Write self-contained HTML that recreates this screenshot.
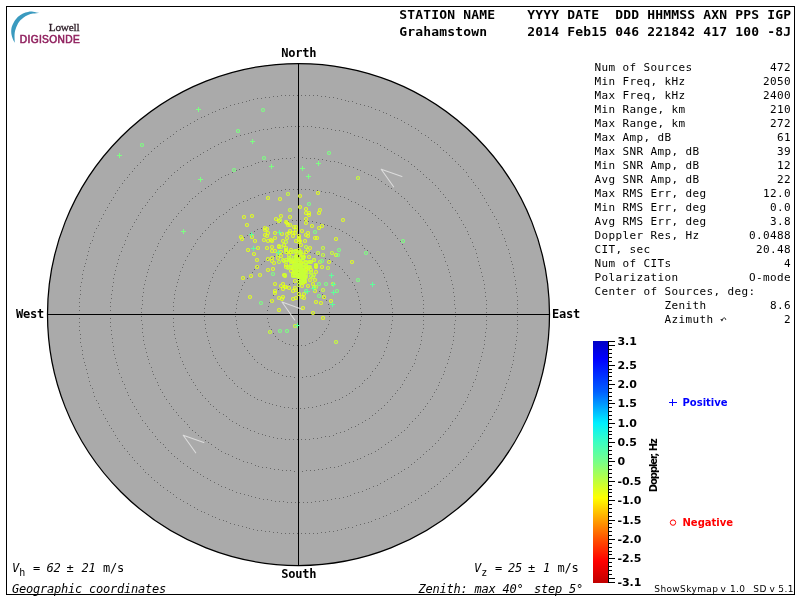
<!DOCTYPE html>
<html lang="en">
<head>
<meta charset="utf-8">
<title>Skymap - Grahamstown 2014 Feb15 221842</title>
<style>
html,body{margin:0;padding:0;background:#fff;}
body{width:800px;height:600px;overflow:hidden;}
svg{display:block;}
.mono{font-family:"DejaVu Sans Mono","Liberation Mono",monospace;}
.sans{font-family:"DejaVu Sans","Liberation Sans",sans-serif;}
.hdr text{font-size:13px;font-weight:bold;letter-spacing:0.174px;white-space:pre;}
.cmp text{font-size:12px;font-weight:bold;letter-spacing:-0.22px;}
.info text{font-size:11px;letter-spacing:0.378px;white-space:pre;}
.bot text{font-size:12px;letter-spacing:-0.224px;white-space:pre;}
.it{font-style:oblique;}
.ver text{font-size:9px;letter-spacing:0.38px;}
.cb text{font-size:11px;font-weight:bold;}
</style>
</head>
<body>
<svg width="800" height="600" viewBox="0 0 800 600">
<defs>
<linearGradient id="jet" x1="0" y1="0" x2="0" y2="1">
<stop offset="0" stop-color="#0000c4"/>
<stop offset="0.075" stop-color="#0000ff"/>
<stop offset="0.21" stop-color="#0060ff"/>
<stop offset="0.339" stop-color="#00f0ff"/>
<stop offset="0.42" stop-color="#3cffc0"/>
<stop offset="0.5" stop-color="#78ff88"/>
<stop offset="0.58" stop-color="#c0ff3c"/>
<stop offset="0.648" stop-color="#ffff00"/>
<stop offset="0.74" stop-color="#ffa000"/>
<stop offset="0.82" stop-color="#ff5000"/>
<stop offset="0.91" stop-color="#ff0000"/>
<stop offset="1" stop-color="#c00000"/>
</linearGradient>
</defs>
<rect x="0" y="0" width="800" height="600" fill="#fff"/>
<rect x="6.5" y="6.5" width="788" height="588" fill="none" stroke="#000" stroke-width="1" shape-rendering="crispEdges"/>

<!-- logo -->
<g id="logo">
<path d="M39.3 13C38.2 12.8 34.9 11.9 33.0 11.7C31.1 11.5 29.7 11.6 28.0 11.9C26.3 12.2 24.7 12.6 23.0 13.4C21.3 14.2 19.5 15.4 18.0 16.8C16.5 18.2 15.1 20.1 14.0 22.0C12.9 23.9 11.9 26.0 11.5 28.0C11.1 30.0 11.2 32.2 11.4 34.0C11.6 35.8 12.2 37.5 12.8 39.0C13.4 40.5 14.5 42.2 14.8 42.8C14.8 41.3 14.4 36.5 14.6 34.0C14.8 31.5 15.3 30.0 16.0 28.0C16.7 26.0 17.8 23.7 19.0 22.0C20.2 20.3 21.5 19.2 23.0 18.0C24.5 16.8 26.3 15.7 28.0 15.0C29.7 14.3 31.1 13.9 33.0 13.6C34.9 13.3 38.2 13.1 39.3 13.0Z" fill="#3a9abf"/>
<text x="48.8" y="30.6" font-family="'Liberation Serif',serif" font-size="11.3px" fill="#2c1c26" stroke="#2c1c26" stroke-width="0.3" letter-spacing="-0.25px">Lowell</text>
<text x="19.8" y="42.7" font-family="'Liberation Sans',sans-serif" font-size="10.2px" fill="#90205e" stroke="#90205e" stroke-width="0.55" letter-spacing="0.34px">DIGISONDE</text>
</g>

<!-- header -->
<g class="mono hdr" fill="#000">
<text x="399.3" y="19" xml:space="preserve">STATION NAME    YYYY DATE  DDD HHMMSS AXN PPS IGP</text>
<text x="399.3" y="36" xml:space="preserve">Grahamstown     2014 Feb15 046 221842 417 100 -8J</text>
</g>

<!-- sky disk -->
<circle cx="298.5" cy="314.5" r="251" fill="#aaaaaa" stroke="#000" stroke-width="1.25"/>
<path d="M329 316.5h1M329 320.5h1M328 324.5h1M326 328.5h1M324 331.5h1M322 334.5h1M319 337.5h1M316 340.5h1M312 342.5h1M309 343.5h1M305 345.5h1M301 345.5h1M297 345.5h1M293 345.5h1M289 344.5h1M285 343.5h1M282 341.5h1M278 339.5h1M275 336.5h1M273 333.5h1M271 329.5h1M269 326.5h1M268 322.5h1M267 318.5h1M267 314.5h1M267 310.5h1M268 306.5h1M269 302.5h1M271 299.5h1M273 295.5h1M275 292.5h1M278 289.5h1M282 287.5h1M285 285.5h1M289 284.5h1M293 283.5h1M297 283.5h1M301 283.5h1M305 283.5h1M309 285.5h1M312 286.5h1M316 288.5h1M319 291.5h1M322 294.5h1M324 297.5h1M326 300.5h1M328 304.5h1M329 308.5h1M329 312.5h1M361 316.5h1M360 320.5h1M360 324.5h1M359 328.5h1M358 332.5h1M357 336.5h1M355 339.5h1M354 343.5h1M352 346.5h1M349 350.5h1M347 353.5h1M344 356.5h1M342 359.5h1M339 362.5h1M335 364.5h1M332 367.5h1M329 369.5h1M325 370.5h1M322 372.5h1M318 373.5h1M314 375.5h1M310 376.5h1M306 376.5h1M302 377.5h1M298 377.5h1M294 377.5h1M290 376.5h1M286 376.5h1M282 375.5h1M278 373.5h1M274 372.5h1M271 370.5h1M267 369.5h1M264 367.5h1M261 364.5h1M257 362.5h1M254 359.5h1M252 356.5h1M249 353.5h1M247 350.5h1M244 346.5h1M242 343.5h1M241 339.5h1M239 336.5h1M238 332.5h1M237 328.5h1M236 324.5h1M236 320.5h1M235 316.5h1M235 312.5h1M236 308.5h1M236 304.5h1M237 300.5h1M238 296.5h1M239 292.5h1M241 289.5h1M242 285.5h1M244 282.5h1M247 278.5h1M249 275.5h1M252 272.5h1M254 269.5h1M257 266.5h1M261 264.5h1M264 261.5h1M267 259.5h1M271 258.5h1M274 256.5h1M278 255.5h1M282 253.5h1M286 252.5h1M290 252.5h1M294 251.5h1M298 251.5h1M302 251.5h1M306 252.5h1M310 252.5h1M314 253.5h1M318 255.5h1M322 256.5h1M325 258.5h1M329 259.5h1M332 261.5h1M335 264.5h1M339 266.5h1M342 269.5h1M344 272.5h1M347 275.5h1M349 278.5h1M352 282.5h1M354 285.5h1M355 289.5h1M357 292.5h1M358 296.5h1M359 300.5h1M360 304.5h1M360 308.5h1M361 312.5h1M392 316.5h1M392 320.5h1M391 324.5h1M391 328.5h1M390 332.5h1M389 336.5h1M388 340.5h1M387 343.5h1M386 347.5h1M384 351.5h1M383 355.5h1M381 358.5h1M379 362.5h1M377 365.5h1M375 368.5h1M372 371.5h1M370 375.5h1M367 378.5h1M364 380.5h1M362 383.5h1M359 386.5h1M355 388.5h1M352 391.5h1M349 393.5h1M346 395.5h1M342 397.5h1M339 399.5h1M335 400.5h1M331 402.5h1M327 403.5h1M324 404.5h1M320 405.5h1M316 406.5h1M312 407.5h1M308 407.5h1M304 408.5h1M300 408.5h1M296 408.5h1M292 408.5h1M288 407.5h1M284 407.5h1M280 406.5h1M276 405.5h1M272 404.5h1M269 403.5h1M265 402.5h1M261 400.5h1M257 399.5h1M254 397.5h1M250 395.5h1M247 393.5h1M244 391.5h1M241 388.5h1M237 386.5h1M234 383.5h1M232 380.5h1M229 378.5h1M226 375.5h1M224 371.5h1M221 368.5h1M219 365.5h1M217 362.5h1M215 358.5h1M213 355.5h1M212 351.5h1M210 347.5h1M209 343.5h1M208 340.5h1M207 336.5h1M206 332.5h1M205 328.5h1M205 324.5h1M204 320.5h1M204 316.5h1M204 312.5h1M204 308.5h1M205 304.5h1M205 300.5h1M206 296.5h1M207 292.5h1M208 288.5h1M209 285.5h1M210 281.5h1M212 277.5h1M213 273.5h1M215 270.5h1M217 266.5h1M219 263.5h1M221 260.5h1M224 257.5h1M226 253.5h1M229 250.5h1M232 248.5h1M234 245.5h1M237 242.5h1M241 240.5h1M244 237.5h1M247 235.5h1M250 233.5h1M254 231.5h1M257 229.5h1M261 228.5h1M265 226.5h1M269 225.5h1M272 224.5h1M276 223.5h1M280 222.5h1M284 221.5h1M288 221.5h1M292 220.5h1M296 220.5h1M300 220.5h1M304 220.5h1M308 221.5h1M312 221.5h1M316 222.5h1M320 223.5h1M324 224.5h1M327 225.5h1M331 226.5h1M335 228.5h1M339 229.5h1M342 231.5h1M346 233.5h1M349 235.5h1M352 237.5h1M355 240.5h1M359 242.5h1M362 245.5h1M364 248.5h1M367 250.5h1M370 253.5h1M372 257.5h1M375 260.5h1M377 263.5h1M379 266.5h1M381 270.5h1M383 273.5h1M384 277.5h1M386 281.5h1M387 285.5h1M388 288.5h1M389 292.5h1M390 296.5h1M391 300.5h1M391 304.5h1M392 308.5h1M392 312.5h1M423 316.5h1M423 320.5h1M423 324.5h1M423 328.5h1M422 332.5h1M421 336.5h1M421 340.5h1M420 344.5h1M419 348.5h1M418 351.5h1M416 355.5h1M415 359.5h1M414 363.5h1M412 366.5h1M410 370.5h1M408 373.5h1M406 377.5h1M404 380.5h1M402 384.5h1M400 387.5h1M397 390.5h1M395 393.5h1M392 396.5h1M390 399.5h1M387 402.5h1M384 405.5h1M381 408.5h1M378 410.5h1M375 413.5h1M372 415.5h1M369 418.5h1M365 420.5h1M362 422.5h1M358 424.5h1M355 426.5h1M351 427.5h1M348 429.5h1M344 431.5h1M340 432.5h1M336 433.5h1M333 435.5h1M329 436.5h1M325 436.5h1M321 437.5h1M317 438.5h1M313 438.5h1M309 439.5h1M305 439.5h1M301 439.5h1M297 439.5h1M293 439.5h1M289 439.5h1M285 439.5h1M281 438.5h1M277 438.5h1M273 437.5h1M269 436.5h1M265 435.5h1M262 434.5h1M258 433.5h1M254 431.5h1M250 430.5h1M247 428.5h1M243 427.5h1M239 425.5h1M236 423.5h1M232 421.5h1M229 419.5h1M226 416.5h1M223 414.5h1M219 412.5h1M216 409.5h1M213 406.5h1M210 404.5h1M208 401.5h1M205 398.5h1M202 395.5h1M200 392.5h1M197 389.5h1M195 385.5h1M193 382.5h1M191 379.5h1M189 375.5h1M187 372.5h1M185 368.5h1M183 364.5h1M182 361.5h1M180 357.5h1M179 353.5h1M178 349.5h1M177 346.5h1M176 342.5h1M175 338.5h1M174 334.5h1M174 330.5h1M173 326.5h1M173 322.5h1M173 318.5h1M173 314.5h1M173 310.5h1M173 306.5h1M173 302.5h1M174 298.5h1M174 294.5h1M175 290.5h1M176 286.5h1M177 282.5h1M178 279.5h1M179 275.5h1M180 271.5h1M182 267.5h1M183 264.5h1M185 260.5h1M187 256.5h1M189 253.5h1M191 249.5h1M193 246.5h1M195 243.5h1M197 239.5h1M200 236.5h1M202 233.5h1M205 230.5h1M208 227.5h1M210 224.5h1M213 222.5h1M216 219.5h1M219 216.5h1M223 214.5h1M226 212.5h1M229 209.5h1M232 207.5h1M236 205.5h1M239 203.5h1M243 201.5h1M247 200.5h1M250 198.5h1M254 197.5h1M258 195.5h1M262 194.5h1M265 193.5h1M269 192.5h1M273 191.5h1M277 190.5h1M281 190.5h1M285 189.5h1M289 189.5h1M293 189.5h1M297 189.5h1M301 189.5h1M305 189.5h1M309 189.5h1M313 190.5h1M317 190.5h1M321 191.5h1M325 192.5h1M329 192.5h1M333 193.5h1M336 195.5h1M340 196.5h1M344 197.5h1M348 199.5h1M351 201.5h1M355 202.5h1M358 204.5h1M362 206.5h1M365 208.5h1M369 210.5h1M372 213.5h1M375 215.5h1M378 218.5h1M381 220.5h1M384 223.5h1M387 226.5h1M390 229.5h1M392 232.5h1M395 235.5h1M397 238.5h1M400 241.5h1M402 244.5h1M404 248.5h1M406 251.5h1M408 255.5h1M410 258.5h1M412 262.5h1M414 265.5h1M415 269.5h1M416 273.5h1M418 277.5h1M419 280.5h1M420 284.5h1M421 288.5h1M421 292.5h1M422 296.5h1M423 300.5h1M423 304.5h1M423 308.5h1M423 312.5h1M455 316.5h1M455 320.5h1M454 324.5h1M454 328.5h1M454 332.5h1M453 336.5h1M453 340.5h1M452 344.5h1M451 348.5h1M450 352.5h1M449 356.5h1M448 359.5h1M447 363.5h1M445 367.5h1M444 371.5h1M443 374.5h1M441 378.5h1M439 382.5h1M438 385.5h1M436 389.5h1M434 392.5h1M432 396.5h1M430 399.5h1M427 403.5h1M425 406.5h1M423 409.5h1M420 412.5h1M418 415.5h1M415 418.5h1M412 421.5h1M409 424.5h1M407 427.5h1M404 430.5h1M401 432.5h1M398 435.5h1M395 437.5h1M391 440.5h1M388 442.5h1M385 444.5h1M381 447.5h1M378 449.5h1M375 451.5h1M371 453.5h1M368 454.5h1M364 456.5h1M360 458.5h1M357 459.5h1M353 461.5h1M349 462.5h1M345 463.5h1M341 465.5h1M338 466.5h1M334 467.5h1M330 467.5h1M326 468.5h1M322 469.5h1M318 469.5h1M314 470.5h1M310 470.5h1M306 470.5h1M302 471.5h1M298 471.5h1M294 471.5h1M290 470.5h1M286 470.5h1M282 470.5h1M278 469.5h1M274 469.5h1M270 468.5h1M266 467.5h1M262 467.5h1M258 466.5h1M255 465.5h1M251 463.5h1M247 462.5h1M243 461.5h1M239 459.5h1M236 458.5h1M232 456.5h1M228 454.5h1M225 453.5h1M221 451.5h1M218 449.5h1M215 447.5h1M211 444.5h1M208 442.5h1M205 440.5h1M201 437.5h1M198 435.5h1M195 432.5h1M192 430.5h1M189 427.5h1M187 424.5h1M184 421.5h1M181 418.5h1M178 415.5h1M176 412.5h1M173 409.5h1M171 406.5h1M169 403.5h1M166 399.5h1M164 396.5h1M162 392.5h1M160 389.5h1M158 385.5h1M157 382.5h1M155 378.5h1M153 374.5h1M152 371.5h1M151 367.5h1M149 363.5h1M148 359.5h1M147 356.5h1M146 352.5h1M145 348.5h1M144 344.5h1M143 340.5h1M143 336.5h1M142 332.5h1M142 328.5h1M142 324.5h1M141 320.5h1M141 316.5h1M141 312.5h1M141 308.5h1M142 304.5h1M142 300.5h1M142 296.5h1M143 292.5h1M143 288.5h1M144 284.5h1M145 280.5h1M146 276.5h1M147 272.5h1M148 269.5h1M149 265.5h1M151 261.5h1M152 257.5h1M153 254.5h1M155 250.5h1M157 246.5h1M158 243.5h1M160 239.5h1M162 236.5h1M164 232.5h1M166 229.5h1M169 225.5h1M171 222.5h1M173 219.5h1M176 216.5h1M178 213.5h1M181 210.5h1M184 207.5h1M187 204.5h1M189 201.5h1M192 198.5h1M195 196.5h1M198 193.5h1M201 191.5h1M205 188.5h1M208 186.5h1M211 184.5h1M215 181.5h1M218 179.5h1M221 177.5h1M225 175.5h1M228 174.5h1M232 172.5h1M236 170.5h1M239 169.5h1M243 167.5h1M247 166.5h1M251 165.5h1M255 163.5h1M258 162.5h1M262 161.5h1M266 161.5h1M270 160.5h1M274 159.5h1M278 159.5h1M282 158.5h1M286 158.5h1M290 158.5h1M294 157.5h1M298 157.5h1M302 157.5h1M306 158.5h1M310 158.5h1M314 158.5h1M318 159.5h1M322 159.5h1M326 160.5h1M330 161.5h1M334 161.5h1M338 162.5h1M341 163.5h1M345 165.5h1M349 166.5h1M353 167.5h1M357 169.5h1M360 170.5h1M364 172.5h1M368 174.5h1M371 175.5h1M375 177.5h1M378 179.5h1M381 181.5h1M385 184.5h1M388 186.5h1M391 188.5h1M395 191.5h1M398 193.5h1M401 196.5h1M404 198.5h1M407 201.5h1M409 204.5h1M412 207.5h1M415 210.5h1M418 213.5h1M420 216.5h1M423 219.5h1M425 222.5h1M427 225.5h1M430 229.5h1M432 232.5h1M434 236.5h1M436 239.5h1M438 243.5h1M439 246.5h1M441 250.5h1M443 254.5h1M444 257.5h1M445 261.5h1M447 265.5h1M448 269.5h1M449 272.5h1M450 276.5h1M451 280.5h1M452 284.5h1M453 288.5h1M453 292.5h1M454 296.5h1M454 300.5h1M454 304.5h1M455 308.5h1M455 312.5h1M486 316.5h1M486 320.5h1M486 324.5h1M486 328.5h1M485 332.5h1M485 336.5h1M484 340.5h1M484 344.5h1M483 348.5h1M482 352.5h1M481 356.5h1M480 360.5h1M479 363.5h1M478 367.5h1M477 371.5h1M476 375.5h1M475 379.5h1M473 382.5h1M472 386.5h1M470 390.5h1M468 394.5h1M467 397.5h1M465 401.5h1M463 404.5h1M461 408.5h1M459 411.5h1M457 415.5h1M455 418.5h1M452 421.5h1M450 425.5h1M448 428.5h1M445 431.5h1M443 434.5h1M440 437.5h1M438 440.5h1M435 443.5h1M432 446.5h1M429 449.5h1M426 451.5h1M423 454.5h1M420 457.5h1M417 459.5h1M414 462.5h1M411 464.5h1M408 467.5h1M404 469.5h1M401 471.5h1M398 473.5h1M394 475.5h1M391 477.5h1M387 479.5h1M384 481.5h1M380 483.5h1M377 485.5h1M373 486.5h1M369 488.5h1M366 489.5h1M362 491.5h1M358 492.5h1M354 493.5h1M350 495.5h1M347 496.5h1M343 497.5h1M339 498.5h1M335 498.5h1M331 499.5h1M327 500.5h1M323 500.5h1M319 501.5h1M315 501.5h1M311 502.5h1M307 502.5h1M303 502.5h1M299 502.5h1M295 502.5h1M291 502.5h1M287 502.5h1M283 501.5h1M279 501.5h1M275 501.5h1M271 500.5h1M267 499.5h1M263 499.5h1M259 498.5h1M255 497.5h1M251 496.5h1M248 495.5h1M244 494.5h1M240 493.5h1M236 492.5h1M232 490.5h1M229 489.5h1M225 487.5h1M221 486.5h1M218 484.5h1M214 482.5h1M210 480.5h1M207 478.5h1M203 476.5h1M200 474.5h1M197 472.5h1M193 470.5h1M190 468.5h1M187 466.5h1M183 463.5h1M180 461.5h1M177 458.5h1M174 456.5h1M171 453.5h1M168 450.5h1M165 447.5h1M163 444.5h1M160 442.5h1M157 439.5h1M155 436.5h1M152 432.5h1M149 429.5h1M147 426.5h1M145 423.5h1M142 420.5h1M140 416.5h1M138 413.5h1M136 409.5h1M134 406.5h1M132 402.5h1M130 399.5h1M128 395.5h1M127 392.5h1M125 388.5h1M124 384.5h1M122 381.5h1M121 377.5h1M119 373.5h1M118 369.5h1M117 365.5h1M116 362.5h1M115 358.5h1M114 354.5h1M113 350.5h1M113 346.5h1M112 342.5h1M112 338.5h1M111 334.5h1M111 330.5h1M110 326.5h1M110 322.5h1M110 318.5h1M110 314.5h1M110 310.5h1M110 306.5h1M110 302.5h1M111 298.5h1M111 294.5h1M112 290.5h1M112 286.5h1M113 282.5h1M113 278.5h1M114 274.5h1M115 270.5h1M116 266.5h1M117 263.5h1M118 259.5h1M119 255.5h1M121 251.5h1M122 247.5h1M124 244.5h1M125 240.5h1M127 236.5h1M128 233.5h1M130 229.5h1M132 226.5h1M134 222.5h1M136 219.5h1M138 215.5h1M140 212.5h1M142 208.5h1M145 205.5h1M147 202.5h1M149 199.5h1M152 196.5h1M155 192.5h1M157 189.5h1M160 186.5h1M163 184.5h1M165 181.5h1M168 178.5h1M171 175.5h1M174 172.5h1M177 170.5h1M180 167.5h1M183 165.5h1M187 162.5h1M190 160.5h1M193 158.5h1M197 156.5h1M200 154.5h1M203 152.5h1M207 150.5h1M210 148.5h1M214 146.5h1M218 144.5h1M221 142.5h1M225 141.5h1M229 139.5h1M232 138.5h1M236 136.5h1M240 135.5h1M244 134.5h1M248 133.5h1M251 132.5h1M255 131.5h1M259 130.5h1M263 129.5h1M267 129.5h1M271 128.5h1M275 127.5h1M279 127.5h1M283 127.5h1M287 126.5h1M291 126.5h1M295 126.5h1M299 126.5h1M303 126.5h1M307 126.5h1M311 126.5h1M315 127.5h1M319 127.5h1M323 128.5h1M327 128.5h1M331 129.5h1M335 130.5h1M339 130.5h1M343 131.5h1M347 132.5h1M350 133.5h1M354 135.5h1M358 136.5h1M362 137.5h1M366 139.5h1M369 140.5h1M373 142.5h1M377 143.5h1M380 145.5h1M384 147.5h1M387 149.5h1M391 151.5h1M394 153.5h1M398 155.5h1M401 157.5h1M404 159.5h1M408 161.5h1M411 164.5h1M414 166.5h1M417 169.5h1M420 171.5h1M423 174.5h1M426 177.5h1M429 179.5h1M432 182.5h1M435 185.5h1M438 188.5h1M440 191.5h1M443 194.5h1M445 197.5h1M448 200.5h1M450 203.5h1M452 207.5h1M455 210.5h1M457 213.5h1M459 217.5h1M461 220.5h1M463 224.5h1M465 227.5h1M467 231.5h1M468 234.5h1M470 238.5h1M472 242.5h1M473 246.5h1M475 249.5h1M476 253.5h1M477 257.5h1M478 261.5h1M479 265.5h1M480 268.5h1M481 272.5h1M482 276.5h1M483 280.5h1M484 284.5h1M484 288.5h1M485 292.5h1M485 296.5h1M486 300.5h1M486 304.5h1M486 308.5h1M486 312.5h1M517 316.5h1M517 320.5h1M517 324.5h1M517 328.5h1M517 332.5h1M516 336.5h1M516 340.5h1M515 344.5h1M515 348.5h1M514 352.5h1M513 356.5h1M513 360.5h1M512 364.5h1M511 367.5h1M510 371.5h1M509 375.5h1M508 379.5h1M506 383.5h1M505 387.5h1M504 390.5h1M502 394.5h1M501 398.5h1M499 401.5h1M498 405.5h1M496 409.5h1M494 412.5h1M492 416.5h1M490 419.5h1M488 423.5h1M486 426.5h1M484 430.5h1M482 433.5h1M480 436.5h1M478 440.5h1M475 443.5h1M473 446.5h1M471 449.5h1M468 452.5h1M466 456.5h1M463 459.5h1M460 462.5h1M458 464.5h1M455 467.5h1M452 470.5h1M449 473.5h1M446 476.5h1M443 478.5h1M440 481.5h1M437 484.5h1M434 486.5h1M431 488.5h1M428 491.5h1M425 493.5h1M421 495.5h1M418 498.5h1M415 500.5h1M411 502.5h1M408 504.5h1M404 506.5h1M401 508.5h1M397 510.5h1M394 511.5h1M390 513.5h1M386 515.5h1M383 516.5h1M379 518.5h1M375 519.5h1M371 521.5h1M368 522.5h1M364 523.5h1M360 524.5h1M356 525.5h1M352 527.5h1M348 527.5h1M345 528.5h1M341 529.5h1M337 530.5h1M333 531.5h1M329 531.5h1M325 532.5h1M321 532.5h1M317 533.5h1M313 533.5h1M309 533.5h1M305 533.5h1M301 533.5h1M297 533.5h1M293 533.5h1M289 533.5h1M285 533.5h1M281 533.5h1M277 532.5h1M273 532.5h1M269 531.5h1M265 531.5h1M261 530.5h1M257 530.5h1M253 529.5h1M249 528.5h1M246 527.5h1M242 526.5h1M238 525.5h1M234 524.5h1M230 523.5h1M226 521.5h1M223 520.5h1M219 519.5h1M215 517.5h1M212 516.5h1M208 514.5h1M204 512.5h1M201 511.5h1M197 509.5h1M194 507.5h1M190 505.5h1M187 503.5h1M183 501.5h1M180 499.5h1M176 497.5h1M173 494.5h1M170 492.5h1M167 490.5h1M163 487.5h1M160 485.5h1M157 482.5h1M154 480.5h1M151 477.5h1M148 474.5h1M145 472.5h1M143 469.5h1M140 466.5h1M137 463.5h1M134 460.5h1M132 457.5h1M129 454.5h1M127 451.5h1M124 448.5h1M122 445.5h1M119 441.5h1M117 438.5h1M115 435.5h1M113 431.5h1M111 428.5h1M109 425.5h1M107 421.5h1M105 418.5h1M103 414.5h1M101 410.5h1M99 407.5h1M98 403.5h1M96 400.5h1M94 396.5h1M93 392.5h1M92 388.5h1M90 385.5h1M89 381.5h1M88 377.5h1M87 373.5h1M86 369.5h1M85 365.5h1M84 362.5h1M83 358.5h1M82 354.5h1M82 350.5h1M81 346.5h1M80 342.5h1M80 338.5h1M80 334.5h1M79 330.5h1M79 326.5h1M79 322.5h1M79 318.5h1M79 314.5h1M79 310.5h1M79 306.5h1M79 302.5h1M79 298.5h1M80 294.5h1M80 290.5h1M80 286.5h1M81 282.5h1M82 278.5h1M82 274.5h1M83 270.5h1M84 266.5h1M85 263.5h1M86 259.5h1M87 255.5h1M88 251.5h1M89 247.5h1M90 243.5h1M92 240.5h1M93 236.5h1M94 232.5h1M96 228.5h1M98 225.5h1M99 221.5h1M101 218.5h1M103 214.5h1M105 210.5h1M107 207.5h1M109 203.5h1M111 200.5h1M113 197.5h1M115 193.5h1M117 190.5h1M119 187.5h1M122 183.5h1M124 180.5h1M127 177.5h1M129 174.5h1M132 171.5h1M134 168.5h1M137 165.5h1M140 162.5h1M143 159.5h1M145 156.5h1M148 154.5h1M151 151.5h1M154 148.5h1M157 146.5h1M160 143.5h1M163 141.5h1M167 138.5h1M170 136.5h1M173 134.5h1M176 131.5h1M180 129.5h1M183 127.5h1M187 125.5h1M190 123.5h1M194 121.5h1M197 119.5h1M201 117.5h1M204 116.5h1M208 114.5h1M212 112.5h1M215 111.5h1M219 109.5h1M223 108.5h1M226 107.5h1M230 105.5h1M234 104.5h1M238 103.5h1M242 102.5h1M246 101.5h1M249 100.5h1M253 99.5h1M257 98.5h1M261 98.5h1M265 97.5h1M269 97.5h1M273 96.5h1M277 96.5h1M281 95.5h1M285 95.5h1M289 95.5h1M293 95.5h1M297 95.5h1M301 95.5h1M305 95.5h1M309 95.5h1M313 95.5h1M317 95.5h1M321 96.5h1M325 96.5h1M329 97.5h1M333 97.5h1M337 98.5h1M341 99.5h1M345 100.5h1M348 101.5h1M352 101.5h1M356 103.5h1M360 104.5h1M364 105.5h1M368 106.5h1M371 107.5h1M375 109.5h1M379 110.5h1M383 112.5h1M386 113.5h1M390 115.5h1M394 117.5h1M397 118.5h1M401 120.5h1M404 122.5h1M408 124.5h1M411 126.5h1M415 128.5h1M418 130.5h1M421 133.5h1M425 135.5h1M428 137.5h1M431 140.5h1M434 142.5h1M437 144.5h1M440 147.5h1M443 150.5h1M446 152.5h1M449 155.5h1M452 158.5h1M455 161.5h1M458 164.5h1M460 166.5h1M463 169.5h1M466 172.5h1M468 176.5h1M471 179.5h1M473 182.5h1M475 185.5h1M478 188.5h1M480 192.5h1M482 195.5h1M484 198.5h1M486 202.5h1M488 205.5h1M490 209.5h1M492 212.5h1M494 216.5h1M496 219.5h1M498 223.5h1M499 227.5h1M501 230.5h1M502 234.5h1M504 238.5h1M505 241.5h1M506 245.5h1M508 249.5h1M509 253.5h1M510 257.5h1M511 261.5h1M512 264.5h1M513 268.5h1M513 272.5h1M514 276.5h1M515 280.5h1M515 284.5h1M516 288.5h1M516 292.5h1M517 296.5h1M517 300.5h1M517 304.5h1M517 308.5h1M517 312.5h1" fill="none" stroke="#686868" stroke-width="1" shape-rendering="crispEdges"/>
<path d="M298.5 63.5V565.5M47.5 314.5H549.5" stroke="#000" stroke-width="1" shape-rendering="crispEdges"/>
<g fill="none" stroke="#dcdcdc" stroke-width="1.1" stroke-linecap="round" stroke-linejoin="round">
<path d="M401.9 176.5L381.2 169.3L393.6 186.8"/>
<path d="M302.6 309.6L282 302L294.7 320"/>
<path d="M203.8 442.5L183.2 435.2L195.7 452.8"/>
</g>
<g id="sources">
<path d="M266.5 198a1.5 1.5 0 1 0 3 0a1.5 1.5 0 1 0 -3 0M278.5 199a1.5 1.5 0 1 0 3 0a1.5 1.5 0 1 0 -3 0M298.5 196a1.5 1.5 0 1 0 3 0a1.5 1.5 0 1 0 -3 0M316.5 193a1.5 1.5 0 1 0 3 0a1.5 1.5 0 1 0 -3 0M298.5 207a1.5 1.5 0 1 0 3 0a1.5 1.5 0 1 0 -3 0M304.5 209a1.5 1.5 0 1 0 3 0a1.5 1.5 0 1 0 -3 0M304.5 213a1.5 1.5 0 1 0 3 0a1.5 1.5 0 1 0 -3 0M307.5 213a1.5 1.5 0 1 0 3 0a1.5 1.5 0 1 0 -3 0M307.5 215a1.5 1.5 0 1 0 3 0a1.5 1.5 0 1 0 -3 0M318.5 210a1.5 1.5 0 1 0 3 0a1.5 1.5 0 1 0 -3 0M317.5 213a1.5 1.5 0 1 0 3 0a1.5 1.5 0 1 0 -3 0M242.5 217a1.5 1.5 0 1 0 3 0a1.5 1.5 0 1 0 -3 0M250.5 216a1.5 1.5 0 1 0 3 0a1.5 1.5 0 1 0 -3 0M279.5 216a1.5 1.5 0 1 0 3 0a1.5 1.5 0 1 0 -3 0M288.5 217a1.5 1.5 0 1 0 3 0a1.5 1.5 0 1 0 -3 0M274.5 219a1.5 1.5 0 1 0 3 0a1.5 1.5 0 1 0 -3 0M277.5 221a1.5 1.5 0 1 0 3 0a1.5 1.5 0 1 0 -3 0M304.5 219a1.5 1.5 0 1 0 3 0a1.5 1.5 0 1 0 -3 0M304.5 223a1.5 1.5 0 1 0 3 0a1.5 1.5 0 1 0 -3 0M245.5 225a1.5 1.5 0 1 0 3 0a1.5 1.5 0 1 0 -3 0M284.5 222a1.5 1.5 0 1 0 3 0a1.5 1.5 0 1 0 -3 0M285.5 223a1.5 1.5 0 1 0 3 0a1.5 1.5 0 1 0 -3 0M286.5 225a1.5 1.5 0 1 0 3 0a1.5 1.5 0 1 0 -3 0M288.5 225a1.5 1.5 0 1 0 3 0a1.5 1.5 0 1 0 -3 0M310.5 226a1.5 1.5 0 1 0 3 0a1.5 1.5 0 1 0 -3 0M320.5 226a1.5 1.5 0 1 0 3 0a1.5 1.5 0 1 0 -3 0M317.5 228a1.5 1.5 0 1 0 3 0a1.5 1.5 0 1 0 -3 0M292.5 227a1.5 1.5 0 1 0 3 0a1.5 1.5 0 1 0 -3 0M294.5 227a1.5 1.5 0 1 0 3 0a1.5 1.5 0 1 0 -3 0M263.5 228a1.5 1.5 0 1 0 3 0a1.5 1.5 0 1 0 -3 0M265.5 229a1.5 1.5 0 1 0 3 0a1.5 1.5 0 1 0 -3 0M263.5 230a1.5 1.5 0 1 0 3 0a1.5 1.5 0 1 0 -3 0M288.5 231a1.5 1.5 0 1 0 3 0a1.5 1.5 0 1 0 -3 0M294.5 230a1.5 1.5 0 1 0 3 0a1.5 1.5 0 1 0 -3 0M300.5 231a1.5 1.5 0 1 0 3 0a1.5 1.5 0 1 0 -3 0M273.5 233a1.5 1.5 0 1 0 3 0a1.5 1.5 0 1 0 -3 0M266.5 233a1.5 1.5 0 1 0 3 0a1.5 1.5 0 1 0 -3 0M263.5 235a1.5 1.5 0 1 0 3 0a1.5 1.5 0 1 0 -3 0M265.5 236a1.5 1.5 0 1 0 3 0a1.5 1.5 0 1 0 -3 0M280.5 234a1.5 1.5 0 1 0 3 0a1.5 1.5 0 1 0 -3 0M285.5 234a1.5 1.5 0 1 0 3 0a1.5 1.5 0 1 0 -3 0M287.5 233a1.5 1.5 0 1 0 3 0a1.5 1.5 0 1 0 -3 0M291.5 233a1.5 1.5 0 1 0 3 0a1.5 1.5 0 1 0 -3 0M293.5 233a1.5 1.5 0 1 0 3 0a1.5 1.5 0 1 0 -3 0M306.5 233a1.5 1.5 0 1 0 3 0a1.5 1.5 0 1 0 -3 0M304.5 235a1.5 1.5 0 1 0 3 0a1.5 1.5 0 1 0 -3 0M306.5 236a1.5 1.5 0 1 0 3 0a1.5 1.5 0 1 0 -3 0M239.5 237a1.5 1.5 0 1 0 3 0a1.5 1.5 0 1 0 -3 0M240.5 239a1.5 1.5 0 1 0 3 0a1.5 1.5 0 1 0 -3 0M250.5 237a1.5 1.5 0 1 0 3 0a1.5 1.5 0 1 0 -3 0M297.5 236a1.5 1.5 0 1 0 3 0a1.5 1.5 0 1 0 -3 0M297.5 238a1.5 1.5 0 1 0 3 0a1.5 1.5 0 1 0 -3 0M291.5 236a1.5 1.5 0 1 0 3 0a1.5 1.5 0 1 0 -3 0M285.5 238a1.5 1.5 0 1 0 3 0a1.5 1.5 0 1 0 -3 0M313.5 238a1.5 1.5 0 1 0 3 0a1.5 1.5 0 1 0 -3 0M315.5 238a1.5 1.5 0 1 0 3 0a1.5 1.5 0 1 0 -3 0M273.5 238a1.5 1.5 0 1 0 3 0a1.5 1.5 0 1 0 -3 0M262.5 240a1.5 1.5 0 1 0 3 0a1.5 1.5 0 1 0 -3 0M269.5 240a1.5 1.5 0 1 0 3 0a1.5 1.5 0 1 0 -3 0M266.5 241a1.5 1.5 0 1 0 3 0a1.5 1.5 0 1 0 -3 0M270.5 241a1.5 1.5 0 1 0 3 0a1.5 1.5 0 1 0 -3 0M253.5 241a1.5 1.5 0 1 0 3 0a1.5 1.5 0 1 0 -3 0M281.5 241a1.5 1.5 0 1 0 3 0a1.5 1.5 0 1 0 -3 0M294.5 241a1.5 1.5 0 1 0 3 0a1.5 1.5 0 1 0 -3 0M341.5 220a1.5 1.5 0 1 0 3 0a1.5 1.5 0 1 0 -3 0M334.5 239a1.5 1.5 0 1 0 3 0a1.5 1.5 0 1 0 -3 0M334.5 255a1.5 1.5 0 1 0 3 0a1.5 1.5 0 1 0 -3 0M350.5 262a1.5 1.5 0 1 0 3 0a1.5 1.5 0 1 0 -3 0M327.5 262a1.5 1.5 0 1 0 3 0a1.5 1.5 0 1 0 -3 0M320.5 267a1.5 1.5 0 1 0 3 0a1.5 1.5 0 1 0 -3 0M322.5 297a1.5 1.5 0 1 0 3 0a1.5 1.5 0 1 0 -3 0M314.5 302a1.5 1.5 0 1 0 3 0a1.5 1.5 0 1 0 -3 0M319.5 303a1.5 1.5 0 1 0 3 0a1.5 1.5 0 1 0 -3 0M329.5 301a1.5 1.5 0 1 0 3 0a1.5 1.5 0 1 0 -3 0M301.5 308a1.5 1.5 0 1 0 3 0a1.5 1.5 0 1 0 -3 0M311.5 313a1.5 1.5 0 1 0 3 0a1.5 1.5 0 1 0 -3 0M302.5 298a1.5 1.5 0 1 0 3 0a1.5 1.5 0 1 0 -3 0M302.5 294a1.5 1.5 0 1 0 3 0a1.5 1.5 0 1 0 -3 0M313.5 291a1.5 1.5 0 1 0 3 0a1.5 1.5 0 1 0 -3 0M306.5 286a1.5 1.5 0 1 0 3 0a1.5 1.5 0 1 0 -3 0M321.5 318a1.5 1.5 0 1 0 3 0a1.5 1.5 0 1 0 -3 0M248.5 297a1.5 1.5 0 1 0 3 0a1.5 1.5 0 1 0 -3 0M270.5 301a1.5 1.5 0 1 0 3 0a1.5 1.5 0 1 0 -3 0M277.5 298a1.5 1.5 0 1 0 3 0a1.5 1.5 0 1 0 -3 0M280.5 299a1.5 1.5 0 1 0 3 0a1.5 1.5 0 1 0 -3 0M281.5 297a1.5 1.5 0 1 0 3 0a1.5 1.5 0 1 0 -3 0M291.5 299a1.5 1.5 0 1 0 3 0a1.5 1.5 0 1 0 -3 0M294.5 298a1.5 1.5 0 1 0 3 0a1.5 1.5 0 1 0 -3 0M297.5 294a1.5 1.5 0 1 0 3 0a1.5 1.5 0 1 0 -3 0M300.5 297a1.5 1.5 0 1 0 3 0a1.5 1.5 0 1 0 -3 0M277.5 310a1.5 1.5 0 1 0 3 0a1.5 1.5 0 1 0 -3 0M246.5 250a1.5 1.5 0 1 0 3 0a1.5 1.5 0 1 0 -3 0M256.5 248a1.5 1.5 0 1 0 3 0a1.5 1.5 0 1 0 -3 0M252.5 254a1.5 1.5 0 1 0 3 0a1.5 1.5 0 1 0 -3 0M255.5 260a1.5 1.5 0 1 0 3 0a1.5 1.5 0 1 0 -3 0M255.5 267a1.5 1.5 0 1 0 3 0a1.5 1.5 0 1 0 -3 0M241.5 278a1.5 1.5 0 1 0 3 0a1.5 1.5 0 1 0 -3 0M249.5 276a1.5 1.5 0 1 0 3 0a1.5 1.5 0 1 0 -3 0M258.5 275a1.5 1.5 0 1 0 3 0a1.5 1.5 0 1 0 -3 0M266.5 270a1.5 1.5 0 1 0 3 0a1.5 1.5 0 1 0 -3 0M271.5 269a1.5 1.5 0 1 0 3 0a1.5 1.5 0 1 0 -3 0M273.5 284a1.5 1.5 0 1 0 3 0a1.5 1.5 0 1 0 -3 0M273.5 291a1.5 1.5 0 1 0 3 0a1.5 1.5 0 1 0 -3 0M273.5 293a1.5 1.5 0 1 0 3 0a1.5 1.5 0 1 0 -3 0M265.5 248a1.5 1.5 0 1 0 3 0a1.5 1.5 0 1 0 -3 0M270.5 247a1.5 1.5 0 1 0 3 0a1.5 1.5 0 1 0 -3 0M270.5 251a1.5 1.5 0 1 0 3 0a1.5 1.5 0 1 0 -3 0M273.5 251a1.5 1.5 0 1 0 3 0a1.5 1.5 0 1 0 -3 0M277.5 246a1.5 1.5 0 1 0 3 0a1.5 1.5 0 1 0 -3 0M266.5 259a1.5 1.5 0 1 0 3 0a1.5 1.5 0 1 0 -3 0M270.5 258a1.5 1.5 0 1 0 3 0a1.5 1.5 0 1 0 -3 0M270.5 261a1.5 1.5 0 1 0 3 0a1.5 1.5 0 1 0 -3 0M272.5 263a1.5 1.5 0 1 0 3 0a1.5 1.5 0 1 0 -3 0M276.5 258a1.5 1.5 0 1 0 3 0a1.5 1.5 0 1 0 -3 0M279.5 256a1.5 1.5 0 1 0 3 0a1.5 1.5 0 1 0 -3 0M279.5 286a1.5 1.5 0 1 0 3 0a1.5 1.5 0 1 0 -3 0M281.5 284a1.5 1.5 0 1 0 3 0a1.5 1.5 0 1 0 -3 0M281.5 289a1.5 1.5 0 1 0 3 0a1.5 1.5 0 1 0 -3 0M283.5 287a1.5 1.5 0 1 0 3 0a1.5 1.5 0 1 0 -3 0M287.5 288a1.5 1.5 0 1 0 3 0a1.5 1.5 0 1 0 -3 0M291.5 291a1.5 1.5 0 1 0 3 0a1.5 1.5 0 1 0 -3 0M293.5 288a1.5 1.5 0 1 0 3 0a1.5 1.5 0 1 0 -3 0M300.5 286a1.5 1.5 0 1 0 3 0a1.5 1.5 0 1 0 -3 0M311.5 284a1.5 1.5 0 1 0 3 0a1.5 1.5 0 1 0 -3 0M313.5 280a1.5 1.5 0 1 0 3 0a1.5 1.5 0 1 0 -3 0M298.5 275a1.5 1.5 0 1 0 3 0a1.5 1.5 0 1 0 -3 0M299.5 270a1.5 1.5 0 1 0 3 0a1.5 1.5 0 1 0 -3 0M301.5 277a1.5 1.5 0 1 0 3 0a1.5 1.5 0 1 0 -3 0M303.5 276a1.5 1.5 0 1 0 3 0a1.5 1.5 0 1 0 -3 0M299.5 265a1.5 1.5 0 1 0 3 0a1.5 1.5 0 1 0 -3 0M302.5 270a1.5 1.5 0 1 0 3 0a1.5 1.5 0 1 0 -3 0M293.5 281a1.5 1.5 0 1 0 3 0a1.5 1.5 0 1 0 -3 0M299.5 273a1.5 1.5 0 1 0 3 0a1.5 1.5 0 1 0 -3 0M298.5 277a1.5 1.5 0 1 0 3 0a1.5 1.5 0 1 0 -3 0M297.5 267a1.5 1.5 0 1 0 3 0a1.5 1.5 0 1 0 -3 0M299.5 275a1.5 1.5 0 1 0 3 0a1.5 1.5 0 1 0 -3 0M299.5 268a1.5 1.5 0 1 0 3 0a1.5 1.5 0 1 0 -3 0M302.5 277a1.5 1.5 0 1 0 3 0a1.5 1.5 0 1 0 -3 0M301.5 273a1.5 1.5 0 1 0 3 0a1.5 1.5 0 1 0 -3 0M301.5 283a1.5 1.5 0 1 0 3 0a1.5 1.5 0 1 0 -3 0M302.5 265a1.5 1.5 0 1 0 3 0a1.5 1.5 0 1 0 -3 0M293.5 272a1.5 1.5 0 1 0 3 0a1.5 1.5 0 1 0 -3 0M297.5 277a1.5 1.5 0 1 0 3 0a1.5 1.5 0 1 0 -3 0M302.5 268a1.5 1.5 0 1 0 3 0a1.5 1.5 0 1 0 -3 0M296.5 268a1.5 1.5 0 1 0 3 0a1.5 1.5 0 1 0 -3 0M301.5 270a1.5 1.5 0 1 0 3 0a1.5 1.5 0 1 0 -3 0M297.5 273a1.5 1.5 0 1 0 3 0a1.5 1.5 0 1 0 -3 0M294.5 272a1.5 1.5 0 1 0 3 0a1.5 1.5 0 1 0 -3 0M309.5 270a1.5 1.5 0 1 0 3 0a1.5 1.5 0 1 0 -3 0M294.5 290a1.5 1.5 0 1 0 3 0a1.5 1.5 0 1 0 -3 0M314.5 272a1.5 1.5 0 1 0 3 0a1.5 1.5 0 1 0 -3 0M306.5 268a1.5 1.5 0 1 0 3 0a1.5 1.5 0 1 0 -3 0M292.5 262a1.5 1.5 0 1 0 3 0a1.5 1.5 0 1 0 -3 0M299.5 263a1.5 1.5 0 1 0 3 0a1.5 1.5 0 1 0 -3 0M304.5 270a1.5 1.5 0 1 0 3 0a1.5 1.5 0 1 0 -3 0M287.5 258a1.5 1.5 0 1 0 3 0a1.5 1.5 0 1 0 -3 0M294.5 265a1.5 1.5 0 1 0 3 0a1.5 1.5 0 1 0 -3 0M288.5 260a1.5 1.5 0 1 0 3 0a1.5 1.5 0 1 0 -3 0M307.5 267a1.5 1.5 0 1 0 3 0a1.5 1.5 0 1 0 -3 0M302.5 272a1.5 1.5 0 1 0 3 0a1.5 1.5 0 1 0 -3 0M298.5 267a1.5 1.5 0 1 0 3 0a1.5 1.5 0 1 0 -3 0M308.5 280a1.5 1.5 0 1 0 3 0a1.5 1.5 0 1 0 -3 0M293.5 260a1.5 1.5 0 1 0 3 0a1.5 1.5 0 1 0 -3 0M293.5 275a1.5 1.5 0 1 0 3 0a1.5 1.5 0 1 0 -3 0M297.5 270a1.5 1.5 0 1 0 3 0a1.5 1.5 0 1 0 -3 0M291.5 275a1.5 1.5 0 1 0 3 0a1.5 1.5 0 1 0 -3 0M309.5 262a1.5 1.5 0 1 0 3 0a1.5 1.5 0 1 0 -3 0M297.5 275a1.5 1.5 0 1 0 3 0a1.5 1.5 0 1 0 -3 0M297.5 266a1.5 1.5 0 1 0 3 0a1.5 1.5 0 1 0 -3 0M289.5 271a1.5 1.5 0 1 0 3 0a1.5 1.5 0 1 0 -3 0M289.5 267a1.5 1.5 0 1 0 3 0a1.5 1.5 0 1 0 -3 0M297.5 262a1.5 1.5 0 1 0 3 0a1.5 1.5 0 1 0 -3 0M303.5 271a1.5 1.5 0 1 0 3 0a1.5 1.5 0 1 0 -3 0M284.5 267a1.5 1.5 0 1 0 3 0a1.5 1.5 0 1 0 -3 0M314.5 265a1.5 1.5 0 1 0 3 0a1.5 1.5 0 1 0 -3 0M304.5 267a1.5 1.5 0 1 0 3 0a1.5 1.5 0 1 0 -3 0M294.5 256a1.5 1.5 0 1 0 3 0a1.5 1.5 0 1 0 -3 0M296.5 260a1.5 1.5 0 1 0 3 0a1.5 1.5 0 1 0 -3 0M301.5 255a1.5 1.5 0 1 0 3 0a1.5 1.5 0 1 0 -3 0M292.5 267a1.5 1.5 0 1 0 3 0a1.5 1.5 0 1 0 -3 0M299.5 282a1.5 1.5 0 1 0 3 0a1.5 1.5 0 1 0 -3 0M299.5 267a1.5 1.5 0 1 0 3 0a1.5 1.5 0 1 0 -3 0M292.5 272a1.5 1.5 0 1 0 3 0a1.5 1.5 0 1 0 -3 0M291.5 273a1.5 1.5 0 1 0 3 0a1.5 1.5 0 1 0 -3 0M302.5 267a1.5 1.5 0 1 0 3 0a1.5 1.5 0 1 0 -3 0M298.5 261a1.5 1.5 0 1 0 3 0a1.5 1.5 0 1 0 -3 0M299.5 276a1.5 1.5 0 1 0 3 0a1.5 1.5 0 1 0 -3 0M283.5 276a1.5 1.5 0 1 0 3 0a1.5 1.5 0 1 0 -3 0M297.5 250a1.5 1.5 0 1 0 3 0a1.5 1.5 0 1 0 -3 0M284.5 287a1.5 1.5 0 1 0 3 0a1.5 1.5 0 1 0 -3 0M296.5 261a1.5 1.5 0 1 0 3 0a1.5 1.5 0 1 0 -3 0M303.5 282a1.5 1.5 0 1 0 3 0a1.5 1.5 0 1 0 -3 0M293.5 276a1.5 1.5 0 1 0 3 0a1.5 1.5 0 1 0 -3 0M302.5 282a1.5 1.5 0 1 0 3 0a1.5 1.5 0 1 0 -3 0M291.5 261a1.5 1.5 0 1 0 3 0a1.5 1.5 0 1 0 -3 0M314.5 267a1.5 1.5 0 1 0 3 0a1.5 1.5 0 1 0 -3 0M302.5 257a1.5 1.5 0 1 0 3 0a1.5 1.5 0 1 0 -3 0M284.5 248a1.5 1.5 0 1 0 3 0a1.5 1.5 0 1 0 -3 0M298.5 241a1.5 1.5 0 1 0 3 0a1.5 1.5 0 1 0 -3 0M287.5 255a1.5 1.5 0 1 0 3 0a1.5 1.5 0 1 0 -3 0M289.5 262a1.5 1.5 0 1 0 3 0a1.5 1.5 0 1 0 -3 0M306.5 250a1.5 1.5 0 1 0 3 0a1.5 1.5 0 1 0 -3 0M296.5 267a1.5 1.5 0 1 0 3 0a1.5 1.5 0 1 0 -3 0M299.5 245a1.5 1.5 0 1 0 3 0a1.5 1.5 0 1 0 -3 0M304.5 262a1.5 1.5 0 1 0 3 0a1.5 1.5 0 1 0 -3 0M282.5 275a1.5 1.5 0 1 0 3 0a1.5 1.5 0 1 0 -3 0M297.5 242a1.5 1.5 0 1 0 3 0a1.5 1.5 0 1 0 -3 0M284.5 250a1.5 1.5 0 1 0 3 0a1.5 1.5 0 1 0 -3 0M294.5 262a1.5 1.5 0 1 0 3 0a1.5 1.5 0 1 0 -3 0M303.5 241a1.5 1.5 0 1 0 3 0a1.5 1.5 0 1 0 -3 0M284.5 260a1.5 1.5 0 1 0 3 0a1.5 1.5 0 1 0 -3 0M286.5 267a1.5 1.5 0 1 0 3 0a1.5 1.5 0 1 0 -3 0M289.5 250a1.5 1.5 0 1 0 3 0a1.5 1.5 0 1 0 -3 0M294.5 267a1.5 1.5 0 1 0 3 0a1.5 1.5 0 1 0 -3 0M297.5 240a1.5 1.5 0 1 0 3 0a1.5 1.5 0 1 0 -3 0M294.5 252a1.5 1.5 0 1 0 3 0a1.5 1.5 0 1 0 -3 0M297.5 265a1.5 1.5 0 1 0 3 0a1.5 1.5 0 1 0 -3 0M304.5 252a1.5 1.5 0 1 0 3 0a1.5 1.5 0 1 0 -3 0M301.5 261a1.5 1.5 0 1 0 3 0a1.5 1.5 0 1 0 -3 0M288.5 252a1.5 1.5 0 1 0 3 0a1.5 1.5 0 1 0 -3 0M297.5 256a1.5 1.5 0 1 0 3 0a1.5 1.5 0 1 0 -3 0M282.5 245a1.5 1.5 0 1 0 3 0a1.5 1.5 0 1 0 -3 0M299.5 252a1.5 1.5 0 1 0 3 0a1.5 1.5 0 1 0 -3 0M301.5 257a1.5 1.5 0 1 0 3 0a1.5 1.5 0 1 0 -3 0M279.5 252a1.5 1.5 0 1 0 3 0a1.5 1.5 0 1 0 -3 0M291.5 268a1.5 1.5 0 1 0 3 0a1.5 1.5 0 1 0 -3 0M289.5 252a1.5 1.5 0 1 0 3 0a1.5 1.5 0 1 0 -3 0M296.5 270a1.5 1.5 0 1 0 3 0a1.5 1.5 0 1 0 -3 0M289.5 261a1.5 1.5 0 1 0 3 0a1.5 1.5 0 1 0 -3 0M304.5 263a1.5 1.5 0 1 0 3 0a1.5 1.5 0 1 0 -3 0M284.5 265a1.5 1.5 0 1 0 3 0a1.5 1.5 0 1 0 -3 0M312.5 260a1.5 1.5 0 1 0 3 0a1.5 1.5 0 1 0 -3 0M307.5 257a1.5 1.5 0 1 0 3 0a1.5 1.5 0 1 0 -3 0M294.5 251a1.5 1.5 0 1 0 3 0a1.5 1.5 0 1 0 -3 0M282.5 261a1.5 1.5 0 1 0 3 0a1.5 1.5 0 1 0 -3 0M314.5 266a1.5 1.5 0 1 0 3 0a1.5 1.5 0 1 0 -3 0M277.5 247a1.5 1.5 0 1 0 3 0a1.5 1.5 0 1 0 -3 0M302.5 275a1.5 1.5 0 1 0 3 0a1.5 1.5 0 1 0 -3 0M308.5 248a1.5 1.5 0 1 0 3 0a1.5 1.5 0 1 0 -3 0M293.5 262a1.5 1.5 0 1 0 3 0a1.5 1.5 0 1 0 -3 0M294.5 257a1.5 1.5 0 1 0 3 0a1.5 1.5 0 1 0 -3 0M284.5 252a1.5 1.5 0 1 0 3 0a1.5 1.5 0 1 0 -3 0" stroke="#E1FF1E" fill="none" stroke-width="1.1"/>
<path d="M356.5 178a1.5 1.5 0 1 0 3 0a1.5 1.5 0 1 0 -3 0M286.5 194a1.5 1.5 0 1 0 3 0a1.5 1.5 0 1 0 -3 0M288.5 210a1.5 1.5 0 1 0 3 0a1.5 1.5 0 1 0 -3 0M278.5 220a1.5 1.5 0 1 0 3 0a1.5 1.5 0 1 0 -3 0M321.5 248a1.5 1.5 0 1 0 3 0a1.5 1.5 0 1 0 -3 0M330.5 253a1.5 1.5 0 1 0 3 0a1.5 1.5 0 1 0 -3 0M321.5 255a1.5 1.5 0 1 0 3 0a1.5 1.5 0 1 0 -3 0M326.5 268a1.5 1.5 0 1 0 3 0a1.5 1.5 0 1 0 -3 0M331.5 284a1.5 1.5 0 1 0 3 0a1.5 1.5 0 1 0 -3 0M321.5 290a1.5 1.5 0 1 0 3 0a1.5 1.5 0 1 0 -3 0M293.5 326a1.5 1.5 0 1 0 3 0a1.5 1.5 0 1 0 -3 0M268.5 332a1.5 1.5 0 1 0 3 0a1.5 1.5 0 1 0 -3 0M334.5 342a1.5 1.5 0 1 0 3 0a1.5 1.5 0 1 0 -3 0M297.5 272a1.5 1.5 0 1 0 3 0a1.5 1.5 0 1 0 -3 0M299.5 277a1.5 1.5 0 1 0 3 0a1.5 1.5 0 1 0 -3 0M301.5 275a1.5 1.5 0 1 0 3 0a1.5 1.5 0 1 0 -3 0M302.5 275a1.5 1.5 0 1 0 3 0a1.5 1.5 0 1 0 -3 0M304.5 275a1.5 1.5 0 1 0 3 0a1.5 1.5 0 1 0 -3 0M294.5 270a1.5 1.5 0 1 0 3 0a1.5 1.5 0 1 0 -3 0M299.5 278a1.5 1.5 0 1 0 3 0a1.5 1.5 0 1 0 -3 0M291.5 275a1.5 1.5 0 1 0 3 0a1.5 1.5 0 1 0 -3 0M297.5 277a1.5 1.5 0 1 0 3 0a1.5 1.5 0 1 0 -3 0M297.5 285a1.5 1.5 0 1 0 3 0a1.5 1.5 0 1 0 -3 0M299.5 276a1.5 1.5 0 1 0 3 0a1.5 1.5 0 1 0 -3 0M299.5 271a1.5 1.5 0 1 0 3 0a1.5 1.5 0 1 0 -3 0M301.5 268a1.5 1.5 0 1 0 3 0a1.5 1.5 0 1 0 -3 0M292.5 272a1.5 1.5 0 1 0 3 0a1.5 1.5 0 1 0 -3 0M298.5 267a1.5 1.5 0 1 0 3 0a1.5 1.5 0 1 0 -3 0M299.5 268a1.5 1.5 0 1 0 3 0a1.5 1.5 0 1 0 -3 0M294.5 275a1.5 1.5 0 1 0 3 0a1.5 1.5 0 1 0 -3 0M296.5 273a1.5 1.5 0 1 0 3 0a1.5 1.5 0 1 0 -3 0M303.5 278a1.5 1.5 0 1 0 3 0a1.5 1.5 0 1 0 -3 0M298.5 266a1.5 1.5 0 1 0 3 0a1.5 1.5 0 1 0 -3 0M297.5 275a1.5 1.5 0 1 0 3 0a1.5 1.5 0 1 0 -3 0M299.5 273a1.5 1.5 0 1 0 3 0a1.5 1.5 0 1 0 -3 0M298.5 276a1.5 1.5 0 1 0 3 0a1.5 1.5 0 1 0 -3 0M302.5 276a1.5 1.5 0 1 0 3 0a1.5 1.5 0 1 0 -3 0M298.5 275a1.5 1.5 0 1 0 3 0a1.5 1.5 0 1 0 -3 0M297.5 282a1.5 1.5 0 1 0 3 0a1.5 1.5 0 1 0 -3 0M298.5 271a1.5 1.5 0 1 0 3 0a1.5 1.5 0 1 0 -3 0M297.5 270a1.5 1.5 0 1 0 3 0a1.5 1.5 0 1 0 -3 0M302.5 270a1.5 1.5 0 1 0 3 0a1.5 1.5 0 1 0 -3 0M299.5 267a1.5 1.5 0 1 0 3 0a1.5 1.5 0 1 0 -3 0M299.5 265a1.5 1.5 0 1 0 3 0a1.5 1.5 0 1 0 -3 0M296.5 272a1.5 1.5 0 1 0 3 0a1.5 1.5 0 1 0 -3 0M291.5 276a1.5 1.5 0 1 0 3 0a1.5 1.5 0 1 0 -3 0M294.5 262a1.5 1.5 0 1 0 3 0a1.5 1.5 0 1 0 -3 0M301.5 258a1.5 1.5 0 1 0 3 0a1.5 1.5 0 1 0 -3 0M302.5 280a1.5 1.5 0 1 0 3 0a1.5 1.5 0 1 0 -3 0M303.5 280a1.5 1.5 0 1 0 3 0a1.5 1.5 0 1 0 -3 0M296.5 263a1.5 1.5 0 1 0 3 0a1.5 1.5 0 1 0 -3 0M299.5 270a1.5 1.5 0 1 0 3 0a1.5 1.5 0 1 0 -3 0M299.5 272a1.5 1.5 0 1 0 3 0a1.5 1.5 0 1 0 -3 0M294.5 272a1.5 1.5 0 1 0 3 0a1.5 1.5 0 1 0 -3 0M298.5 277a1.5 1.5 0 1 0 3 0a1.5 1.5 0 1 0 -3 0M297.5 273a1.5 1.5 0 1 0 3 0a1.5 1.5 0 1 0 -3 0M299.5 283a1.5 1.5 0 1 0 3 0a1.5 1.5 0 1 0 -3 0M301.5 276a1.5 1.5 0 1 0 3 0a1.5 1.5 0 1 0 -3 0M302.5 281a1.5 1.5 0 1 0 3 0a1.5 1.5 0 1 0 -3 0M294.5 265a1.5 1.5 0 1 0 3 0a1.5 1.5 0 1 0 -3 0M299.5 275a1.5 1.5 0 1 0 3 0a1.5 1.5 0 1 0 -3 0M296.5 277a1.5 1.5 0 1 0 3 0a1.5 1.5 0 1 0 -3 0M291.5 267a1.5 1.5 0 1 0 3 0a1.5 1.5 0 1 0 -3 0M298.5 268a1.5 1.5 0 1 0 3 0a1.5 1.5 0 1 0 -3 0M301.5 260a1.5 1.5 0 1 0 3 0a1.5 1.5 0 1 0 -3 0M316.5 253a1.5 1.5 0 1 0 3 0a1.5 1.5 0 1 0 -3 0M306.5 267a1.5 1.5 0 1 0 3 0a1.5 1.5 0 1 0 -3 0M314.5 287a1.5 1.5 0 1 0 3 0a1.5 1.5 0 1 0 -3 0M309.5 272a1.5 1.5 0 1 0 3 0a1.5 1.5 0 1 0 -3 0M314.5 265a1.5 1.5 0 1 0 3 0a1.5 1.5 0 1 0 -3 0M293.5 251a1.5 1.5 0 1 0 3 0a1.5 1.5 0 1 0 -3 0M294.5 258a1.5 1.5 0 1 0 3 0a1.5 1.5 0 1 0 -3 0M296.5 266a1.5 1.5 0 1 0 3 0a1.5 1.5 0 1 0 -3 0M287.5 267a1.5 1.5 0 1 0 3 0a1.5 1.5 0 1 0 -3 0M281.5 260a1.5 1.5 0 1 0 3 0a1.5 1.5 0 1 0 -3 0M294.5 271a1.5 1.5 0 1 0 3 0a1.5 1.5 0 1 0 -3 0M286.5 268a1.5 1.5 0 1 0 3 0a1.5 1.5 0 1 0 -3 0M297.5 260a1.5 1.5 0 1 0 3 0a1.5 1.5 0 1 0 -3 0M299.5 282a1.5 1.5 0 1 0 3 0a1.5 1.5 0 1 0 -3 0M304.5 265a1.5 1.5 0 1 0 3 0a1.5 1.5 0 1 0 -3 0M289.5 257a1.5 1.5 0 1 0 3 0a1.5 1.5 0 1 0 -3 0M308.5 267a1.5 1.5 0 1 0 3 0a1.5 1.5 0 1 0 -3 0M309.5 276a1.5 1.5 0 1 0 3 0a1.5 1.5 0 1 0 -3 0M303.5 273a1.5 1.5 0 1 0 3 0a1.5 1.5 0 1 0 -3 0M294.5 267a1.5 1.5 0 1 0 3 0a1.5 1.5 0 1 0 -3 0M297.5 252a1.5 1.5 0 1 0 3 0a1.5 1.5 0 1 0 -3 0M299.5 253a1.5 1.5 0 1 0 3 0a1.5 1.5 0 1 0 -3 0M302.5 257a1.5 1.5 0 1 0 3 0a1.5 1.5 0 1 0 -3 0M293.5 265a1.5 1.5 0 1 0 3 0a1.5 1.5 0 1 0 -3 0M307.5 262a1.5 1.5 0 1 0 3 0a1.5 1.5 0 1 0 -3 0M293.5 275a1.5 1.5 0 1 0 3 0a1.5 1.5 0 1 0 -3 0M289.5 265a1.5 1.5 0 1 0 3 0a1.5 1.5 0 1 0 -3 0M307.5 272a1.5 1.5 0 1 0 3 0a1.5 1.5 0 1 0 -3 0M302.5 272a1.5 1.5 0 1 0 3 0a1.5 1.5 0 1 0 -3 0M304.5 263a1.5 1.5 0 1 0 3 0a1.5 1.5 0 1 0 -3 0M283.5 275a1.5 1.5 0 1 0 3 0a1.5 1.5 0 1 0 -3 0M293.5 268a1.5 1.5 0 1 0 3 0a1.5 1.5 0 1 0 -3 0M312.5 287a1.5 1.5 0 1 0 3 0a1.5 1.5 0 1 0 -3 0M308.5 262a1.5 1.5 0 1 0 3 0a1.5 1.5 0 1 0 -3 0M289.5 261a1.5 1.5 0 1 0 3 0a1.5 1.5 0 1 0 -3 0M296.5 270a1.5 1.5 0 1 0 3 0a1.5 1.5 0 1 0 -3 0M302.5 265a1.5 1.5 0 1 0 3 0a1.5 1.5 0 1 0 -3 0M287.5 260a1.5 1.5 0 1 0 3 0a1.5 1.5 0 1 0 -3 0M296.5 262a1.5 1.5 0 1 0 3 0a1.5 1.5 0 1 0 -3 0M294.5 257a1.5 1.5 0 1 0 3 0a1.5 1.5 0 1 0 -3 0M312.5 275a1.5 1.5 0 1 0 3 0a1.5 1.5 0 1 0 -3 0M318.5 262a1.5 1.5 0 1 0 3 0a1.5 1.5 0 1 0 -3 0M312.5 260a1.5 1.5 0 1 0 3 0a1.5 1.5 0 1 0 -3 0M301.5 270a1.5 1.5 0 1 0 3 0a1.5 1.5 0 1 0 -3 0M277.5 262a1.5 1.5 0 1 0 3 0a1.5 1.5 0 1 0 -3 0M279.5 247a1.5 1.5 0 1 0 3 0a1.5 1.5 0 1 0 -3 0M292.5 265a1.5 1.5 0 1 0 3 0a1.5 1.5 0 1 0 -3 0M284.5 250a1.5 1.5 0 1 0 3 0a1.5 1.5 0 1 0 -3 0M304.5 247a1.5 1.5 0 1 0 3 0a1.5 1.5 0 1 0 -3 0M293.5 260a1.5 1.5 0 1 0 3 0a1.5 1.5 0 1 0 -3 0M284.5 262a1.5 1.5 0 1 0 3 0a1.5 1.5 0 1 0 -3 0M311.5 277a1.5 1.5 0 1 0 3 0a1.5 1.5 0 1 0 -3 0M292.5 258a1.5 1.5 0 1 0 3 0a1.5 1.5 0 1 0 -3 0M284.5 242a1.5 1.5 0 1 0 3 0a1.5 1.5 0 1 0 -3 0M298.5 253a1.5 1.5 0 1 0 3 0a1.5 1.5 0 1 0 -3 0M291.5 252a1.5 1.5 0 1 0 3 0a1.5 1.5 0 1 0 -3 0M304.5 277a1.5 1.5 0 1 0 3 0a1.5 1.5 0 1 0 -3 0M276.5 255a1.5 1.5 0 1 0 3 0a1.5 1.5 0 1 0 -3 0M287.5 258a1.5 1.5 0 1 0 3 0a1.5 1.5 0 1 0 -3 0" stroke="#C8FF37" fill="none" stroke-width="1.1"/>
<path d="M261.5 110a1.5 1.5 0 1 0 3 0a1.5 1.5 0 1 0 -3 0M140.5 145a1.5 1.5 0 1 0 3 0a1.5 1.5 0 1 0 -3 0M236.5 131a1.5 1.5 0 1 0 3 0a1.5 1.5 0 1 0 -3 0M232.5 170a1.5 1.5 0 1 0 3 0a1.5 1.5 0 1 0 -3 0M262.5 158a1.5 1.5 0 1 0 3 0a1.5 1.5 0 1 0 -3 0M327.5 153a1.5 1.5 0 1 0 3 0a1.5 1.5 0 1 0 -3 0M307.5 204a1.5 1.5 0 1 0 3 0a1.5 1.5 0 1 0 -3 0M313.5 232a1.5 1.5 0 1 0 3 0a1.5 1.5 0 1 0 -3 0M401.5 241a1.5 1.5 0 1 0 3 0a1.5 1.5 0 1 0 -3 0M337.5 250a1.5 1.5 0 1 0 3 0a1.5 1.5 0 1 0 -3 0M364.5 253a1.5 1.5 0 1 0 3 0a1.5 1.5 0 1 0 -3 0M336.5 255a1.5 1.5 0 1 0 3 0a1.5 1.5 0 1 0 -3 0M320.5 261a1.5 1.5 0 1 0 3 0a1.5 1.5 0 1 0 -3 0M356.5 280a1.5 1.5 0 1 0 3 0a1.5 1.5 0 1 0 -3 0M317.5 284a1.5 1.5 0 1 0 3 0a1.5 1.5 0 1 0 -3 0M324.5 284a1.5 1.5 0 1 0 3 0a1.5 1.5 0 1 0 -3 0M304.5 291a1.5 1.5 0 1 0 3 0a1.5 1.5 0 1 0 -3 0M335.5 291a1.5 1.5 0 1 0 3 0a1.5 1.5 0 1 0 -3 0M317.5 296a1.5 1.5 0 1 0 3 0a1.5 1.5 0 1 0 -3 0M259.5 303a1.5 1.5 0 1 0 3 0a1.5 1.5 0 1 0 -3 0M278.5 331a1.5 1.5 0 1 0 3 0a1.5 1.5 0 1 0 -3 0M285.5 331a1.5 1.5 0 1 0 3 0a1.5 1.5 0 1 0 -3 0M271.5 274a1.5 1.5 0 1 0 3 0a1.5 1.5 0 1 0 -3 0" stroke="#7DFF82" fill="none" stroke-width="1.1"/>
<path d="M181 231.5h5M183.5 229v5M117 155.5h5M119.5 153v5M196 109.5h5M198.5 107v5M250 141.5h5M252.5 139v5M198 179.5h5M200.5 177v5M269 166.5h5M271.5 164v5M316 163.5h5M318.5 161v5M300 168.5h5M302.5 166v5M306 176.5h5M308.5 174v5" stroke="#7DFF82" fill="none" stroke-width="1"/>
<path d="M277 232.5h5M279.5 230v5M249 234.5h5M251.5 232v5M329 275.5h5M331.5 273v5M370 284.5h5M372.5 282v5M331 284.5h5M333.5 282v5M311 288.5h5M313.5 286v5M305 291.5h5M307.5 289v5M331 292.5h5M333.5 290v5M330 304.5h5M332.5 302v5M295 325.5h5M297.5 323v5M251 248.5h5M253.5 246v5M276 252.5h5M278.5 250v5" stroke="#5FFF9B" fill="none" stroke-width="1"/>
</g>

<!-- compass labels -->
<g class="mono cmp" fill="#000">
<text x="281.3" y="57">North</text>
<text x="281.3" y="578">South</text>
<text x="15.9" y="318">West</text>
<text x="552" y="318">East</text>
</g>

<!-- info table -->
<g class="mono info" fill="#000" xml:space="preserve">
<text x="594.5" y="71">Num of Sources</text><text x="790.9" y="71" text-anchor="end">472</text><text x="594.5" y="85">Min Freq, kHz</text><text x="790.9" y="85" text-anchor="end">2050</text><text x="594.5" y="99">Max Freq, kHz</text><text x="790.9" y="99" text-anchor="end">2400</text><text x="594.5" y="113">Min Range, km</text><text x="790.9" y="113" text-anchor="end">210</text><text x="594.5" y="127">Max Range, km</text><text x="790.9" y="127" text-anchor="end">272</text><text x="594.5" y="141">Max Amp, dB</text><text x="790.9" y="141" text-anchor="end">61</text><text x="594.5" y="155">Max SNR Amp, dB</text><text x="790.9" y="155" text-anchor="end">39</text><text x="594.5" y="169">Min SNR Amp, dB</text><text x="790.9" y="169" text-anchor="end">12</text><text x="594.5" y="183">Avg SNR Amp, dB</text><text x="790.9" y="183" text-anchor="end">22</text><text x="594.5" y="197">Max RMS Err, deg</text><text x="790.9" y="197" text-anchor="end">12.0</text><text x="594.5" y="211">Min RMS Err, deg</text><text x="790.9" y="211" text-anchor="end">0.0</text><text x="594.5" y="225">Avg RMS Err, deg</text><text x="790.9" y="225" text-anchor="end">3.8</text><text x="594.5" y="239">Doppler Res, Hz</text><text x="790.9" y="239" text-anchor="end">0.0488</text><text x="594.5" y="253">CIT, sec</text><text x="790.9" y="253" text-anchor="end">20.48</text><text x="594.5" y="267">Num of CITs</text><text x="790.9" y="267" text-anchor="end">4</text><text x="594.5" y="281">Polarization</text><text x="790.9" y="281" text-anchor="end">O-mode</text><text x="594.5" y="295">Center of Sources, deg:</text><text x="594.5" y="309">          Zenith</text><text x="790.9" y="309" text-anchor="end">8.6</text><text x="594.5" y="323">          Azimuth</text><text x="790.9" y="323" text-anchor="end">2</text>
</g>
<path d="M725.7 319.9C725.9 317.6 723.4 316.9 722.4 319.6" fill="none" stroke="#222" stroke-width="1"/><path d="M720.3 319.1L723.4 319.4L721.9 321.4Z" fill="#111"/>

<!-- colour bar -->
<rect x="593" y="341" width="15" height="242" fill="url(#jet)"/>
<path d="M608.5 341V583" stroke="#000" stroke-width="1" shape-rendering="crispEdges"/>
<path d="M609 578.5h6M609 574.5h3M609 570.5h3M609 566.5h3M609 562.5h3M609 558.5h6M609 554.5h3M609 551.5h3M609 547.5h3M609 543.5h3M609 539.5h6M609 535.5h3M609 531.5h3M609 527.5h3M609 523.5h3M609 520.5h6M609 516.5h3M609 512.5h3M609 508.5h3M609 504.5h3M609 500.5h6M609 496.5h3M609 492.5h3M609 489.5h3M609 485.5h3M609 481.5h6M609 477.5h3M609 473.5h3M609 469.5h3M609 465.5h3M609 461.5h6M609 458.5h3M609 454.5h3M609 450.5h3M609 446.5h3M609 442.5h6M609 438.5h3M609 434.5h3M609 431.5h3M609 427.5h3M609 423.5h6M609 419.5h3M609 415.5h3M609 411.5h3M609 407.5h3M609 403.5h6M609 400.5h3M609 396.5h3M609 392.5h3M609 388.5h3M609 384.5h6M609 380.5h3M609 376.5h3M609 372.5h3M609 369.5h3M609 365.5h6M609 361.5h3M609 357.5h3M609 353.5h3M609 349.5h3M609 345.5h6M609 341.5h6M609 582.5h6" stroke="#000" stroke-width="1" shape-rendering="crispEdges"/>
<g class="sans cb" fill="#000"><text x="617.4" y="345">3.1</text><text x="617.4" y="369">2.5</text><text x="617.4" y="388">2.0</text><text x="617.4" y="407">1.5</text><text x="617.4" y="427">1.0</text><text x="617.4" y="446">0.5</text><text x="617.4" y="465">0</text><text x="617.4" y="485">-0.5</text><text x="617.4" y="504">-1.0</text><text x="617.4" y="524">-1.5</text><text x="617.4" y="543">-2.0</text><text x="617.4" y="562">-2.5</text><text x="617.4" y="586">-3.1</text></g>
<text class="sans" transform="translate(657 492.3) rotate(-90)" font-size="10px" font-weight="bold" letter-spacing="-1.05px" fill="#000">Doppler, Hz</text>
<path d="M669 402.5h8M672.5 399v7" stroke="#0000ff" stroke-width="1" shape-rendering="crispEdges"/>
<text class="sans" x="682.5" y="406" font-size="10px" font-weight="bold" fill="#0000ff">Positive</text>
<circle cx="673" cy="522.6" r="2.7" fill="none" stroke="#ff0000" stroke-width="1"/>
<text class="sans" x="682.5" y="526" font-size="10px" font-weight="bold" fill="#ff0000">Negative</text>

<!-- bottom captions -->
<g class="mono bot" fill="#000" xml:space="preserve">
<text x="12" y="572"><tspan class="it">V</tspan></text>
<text x="19.3" y="576" style="font-size:10px;letter-spacing:0">h</text>
<text x="33" y="572">=</text>
<text x="46.5" y="572" class="it">62</text>
<text x="66.5" y="572">±</text>
<text x="81.5" y="572" class="it">21</text>
<text x="103" y="572">m/s</text>
<text x="11.9" y="593" class="it">Geographic coordinates</text>
<text x="474" y="572" class="it">V</text>
<text x="481.3" y="576" style="font-size:10px;letter-spacing:0">z</text>
<text x="495" y="572">=</text>
<text x="508" y="572" class="it">25</text>
<text x="528" y="572">±</text>
<text x="543" y="572" class="it">1</text>
<text x="557.5" y="572">m/s</text>
<text x="418.6" y="593" class="it">Zenith: max 40°</text>
<text x="534" y="593" class="it">step 5°</text>
</g>
<g class="sans ver" fill="#000"><text x="654.3" y="592.3">ShowSkymap</text><text x="720.5" y="592.3">v</text><text x="730" y="592.3">1.0</text><text x="753.3" y="592.3">SD</text><text x="769.4" y="592.3">v</text><text x="778.3" y="592.3">5.1</text></g>
</svg>
</body>
</html>
